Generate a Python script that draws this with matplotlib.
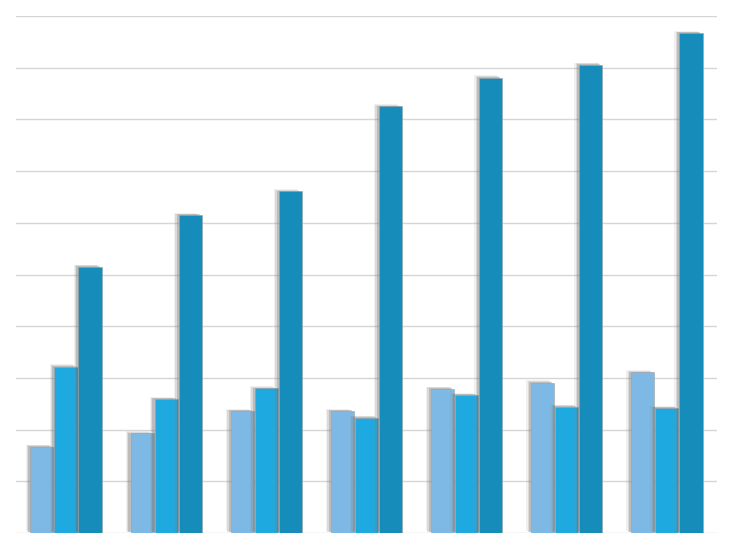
import matplotlib
matplotlib.use('Agg')
import matplotlib.pyplot as plt
import matplotlib.patheffects as pe
import numpy as np

# 그룹별 값 (눈금 0~100 기준)
groups = ['1', '2', '3', '4', '5', '6', '7']
series_light = [16.7, 19.3, 23.6, 23.6, 27.9, 29.1, 31.1]
series_mid = [32.2, 25.9, 28.0, 22.3, 26.7, 24.4, 24.2]
series_dark = [51.5, 61.5, 66.1, 82.5, 88.1, 90.6, 96.7]
y_ticks = [0, 10, 20, 30, 40, 50, 60, 70, 80, 90, 100]

colors = ['#7db9e4', '#1fa9e1', '#168cbb']

fig = plt.figure(figsize=(7.33, 5.5), dpi=100)
ax = fig.add_axes([0.0218, 0.0309, 0.9563, 0.94])

# 흐린 그림자 (여러 겹으로 블러 흉내)
shadow = [
    pe.SimplePatchShadow(offset=(-3.5, 1.5), shadow_rgbFace='#888888', alpha=0.12),
    pe.SimplePatchShadow(offset=(-2.5, 1.0), shadow_rgbFace='#777777', alpha=0.18),
    pe.SimplePatchShadow(offset=(-1.5, 0.5), shadow_rgbFace='#666666', alpha=0.25),
    pe.Normal(),
]

x = np.arange(len(groups)) + 0.5
w = 0.232
for off, vals, c in zip([-0.24, 0.0, 0.24], [series_light, series_mid, series_dark], colors):
    bars = ax.bar(x + off, vals, width=w, color=c, edgecolor='#a0a0a0',
                  linewidth=0.4, zorder=3)
    for b in bars:
        b.set_path_effects(shadow)

ax.set_xlim(0, 7)
ax.set_ylim(0, 100)
ax.set_yticks(y_ticks)
ax.yaxis.grid(True, color='#d6d6d6', linewidth=1.0, zorder=0)
ax.set_axisbelow(True)
ax.tick_params(left=False, bottom=False, labelleft=False, labelbottom=False)
for s in ax.spines.values():
    s.set_visible(False)
ax.set_clip_on(False)

fig.savefig('out.png', dpi=100)
